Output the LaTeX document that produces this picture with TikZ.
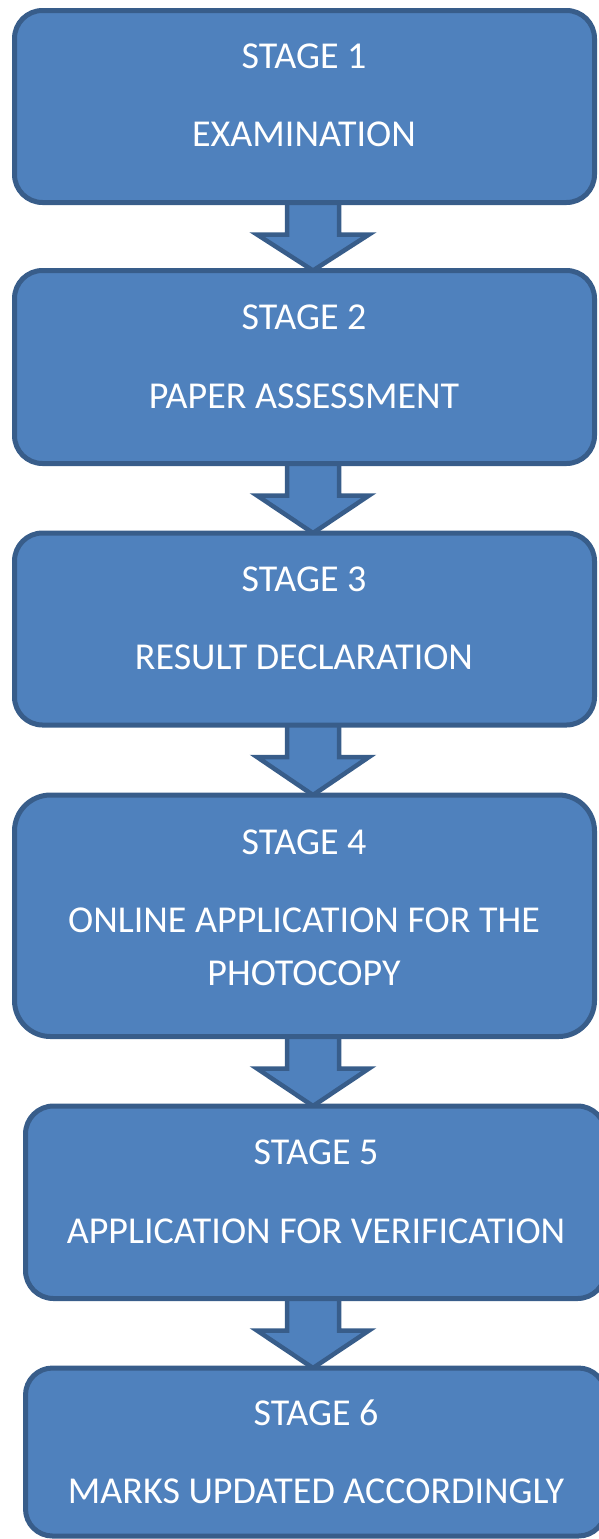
\documentclass[tikz,border=0pt]{standalone}
\usepackage{fontspec}
\setmainfont{Carlito}
\usetikzlibrary{calc,backgrounds}
\definecolor{boxfill}{HTML}{4F81BD}
\definecolor{boxline}{HTML}{385D8A}
\tikzset{
  stagebox/.style={draw=boxline, fill=boxfill, line width=5pt, inner sep=0pt, outer sep=0pt, minimum width=580pt},
  stagetxt/.style={text=white, font=\fontsize{38}{46}\selectfont, anchor=base, inner sep=0pt},
  blockarr/.style={draw=boxline, fill=boxfill, line width=4.5pt, line join=miter}
}
\newcommand{\blockarrowfrom}[2]{%
  \begin{pgfonlayer}{background}
  \draw[blockarr] let \p1=(#1.south), \p2=(#2.north) in
    (287pt,\y1+8pt) -- (287pt,\y1-32pt) -- (257pt,\y1-32pt) -- (313pt,\y2) --
    (369pt,\y1-32pt) -- (339pt,\y1-32pt) -- (339pt,\y1+8pt);
  \end{pgfonlayer}}
\begin{document}
\begin{tikzpicture}[x=1pt,y=-1pt]
\useasboundingbox (0,0) rectangle (598,1539);
\node[stagebox, minimum height=192pt, rounded corners=28pt] (b1) at (304.5,106.5) {};
\node[stagebox, minimum height=193pt, rounded corners=28pt] (b2) at (304.5,367) {};
\node[stagebox, minimum height=192pt, rounded corners=28pt] (b3) at (304.5,629) {};
\node[stagebox, minimum height=241.5pt, rounded corners=36pt] (b4) at (304.5,915.75) {};
\node[stagebox, minimum height=192.5pt, rounded corners=28pt] (b5) at (315.5,1202.25) {};
\node[stagebox, minimum height=168pt, rounded corners=27pt] (b6) at (315.5,1452) {};
\blockarrowfrom{b1}{b2}
\blockarrowfrom{b2}{b3}
\blockarrowfrom{b3}{b4}
\blockarrowfrom{b4}{b5}
\blockarrowfrom{b5}{b6}
\node[stagetxt] (t1a) at (304,68) {STAGE 1};
\node[stagetxt] (t1b) at (304,146) {EXAMINATION};
\node[stagetxt] (t2a) at (304,329) {STAGE 2};
\node[stagetxt] (t2b) at (304,408) {PAPER ASSESSMENT};
\node[stagetxt] (t3a) at (304,591) {STAGE 3};
\node[stagetxt] (t3b) at (304,669) {RESULT DECLARATION};
\node[stagetxt] (t4a) at (304,854) {STAGE 4};
\node[stagetxt] (t4b) at (304,932) {ONLINE APPLICATION FOR THE};
\node[stagetxt] (t4c) at (304,985) {PHOTOCOPY};
\node[stagetxt] (t5a) at (316,1164) {STAGE 5};
\node[stagetxt] (t5b) at (316,1243) {APPLICATION FOR VERIFICATION};
\node[stagetxt] (t6a) at (316,1425) {STAGE 6};
\node[stagetxt] (t6b) at (316,1503) {MARKS UPDATED ACCORDINGLY};
\end{tikzpicture}
\end{document}
